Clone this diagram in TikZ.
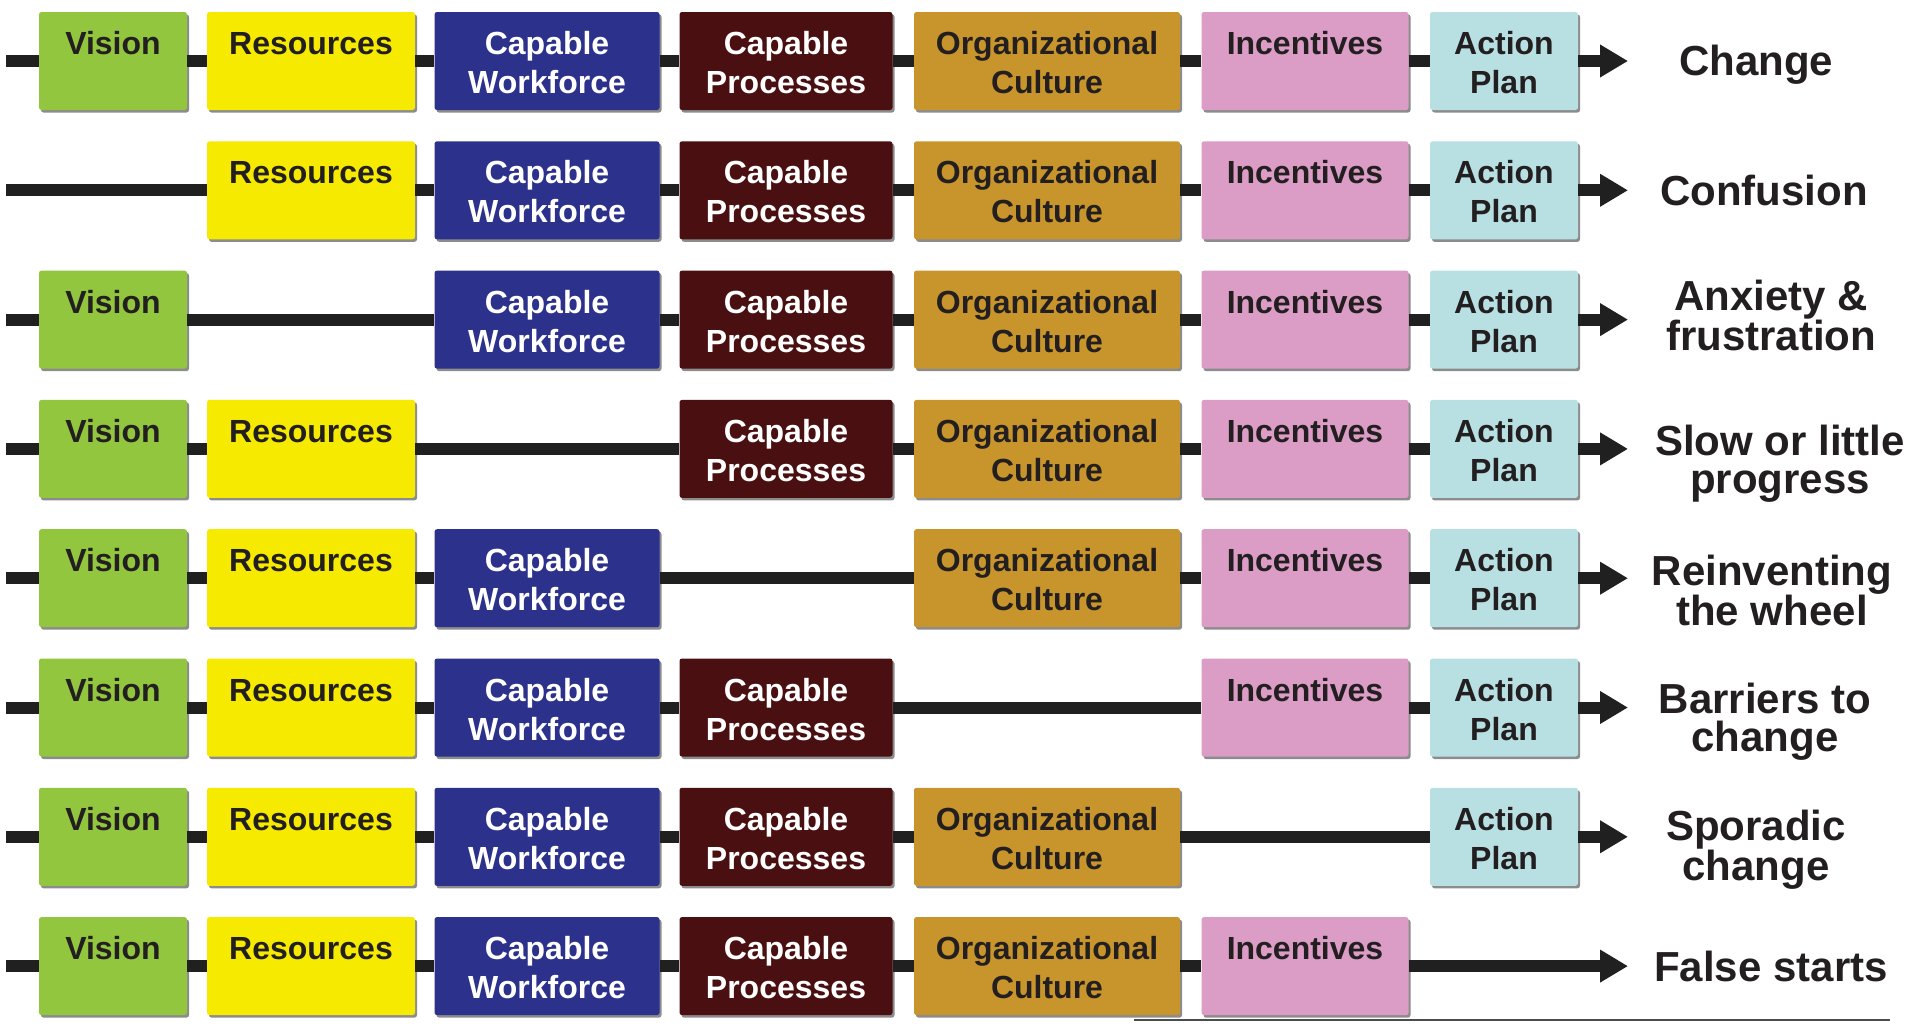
\documentclass[tikz,border=0pt]{standalone}
\usepackage{fontspec}
\setmainfont{Liberation Sans}
\usetikzlibrary{arrows.meta,shadows}
\definecolor{cVision}{RGB}{146,198,62}
\definecolor{cRes}{RGB}{246,234,0}
\definecolor{cCW}{RGB}{44,49,139}
\definecolor{cCP}{RGB}{74,16,17}
\definecolor{cOC}{RGB}{199,149,43}
\definecolor{cInc}{RGB}{219,156,198}
\definecolor{cAP}{RGB}{184,223,226}
\definecolor{cDark}{RGB}{35,31,32}
\definecolor{barc}{RGB}{32,32,32}
\tikzset{
  stagebox/.style={rounded corners=2.5pt, inner sep=0pt, minimum height=98pt,
    drop shadow={shadow xshift=2pt, shadow yshift=-2.5pt, opacity=0.45, fill=black}},
  boxtext/.style={font=\fontsize{32}{39}\selectfont\bfseries, align=center,
    inner sep=0pt, anchor=north},
  bar/.style={line width=12pt, draw=barc},
  outlabel/.style={font=\fontsize{42}{38}\selectfont\bfseries, align=center,
    inner sep=0pt, anchor=north, text=cDark},
}
\begin{document}
\begin{tikzpicture}[x=1pt,y=-1pt]
\useasboundingbox (0,0) rectangle (1911,1023);
\foreach \r/\miss/\lab/\lx/\ly in {
  1/0/{Change}/1756/14,
  2/1/{Confusion}/1764/15,
  3/2/{Anxiety \&\\frustration}/1771/-9,
  4/3/{Slow or little\\progress}/1780/6,
  5/4/{Reinventing\\the wheel}/1772/7,
  6/5/{Barriers to\\change}/1765/6,
  7/6/{Sporadic\\change}/1756/3,
  8/7/{False starts}/1771/15}{
  \pgfmathsetmacro\y{61+129.3*(\r-1)}
  \coordinate (s\r) at (6,\y);
  \coordinate (e\r) at (1628,\y);
  \xdef\prev{s\r}
  \foreach \c/\cx/\cw/\cf/\ct/\ctext in {
    1/113/148/cVision/cDark/{Vision},
    2/311/208/cRes/cDark/{Resources},
    3/547/225/cCW/white/{Capable\\Workforce},
    4/786/213/cCP/white/{Capable\\Processes},
    5/1047/266/cOC/cDark/{Organizational\\Culture},
    6/1305/207/cInc/cDark/{Incentives},
    7/1504/148/cAP/cDark/{Action\\Plan}}{
    \ifnum\c=\miss\else
      \node[stagebox, fill=\cf, minimum width=\cw*1pt] (b\r-\c) at (\cx,\y) {};
      \node[boxtext, text=\ct] (t\r-\c) at ([yshift=-15.2pt]b\r-\c.north) {\strut\ctext};
      \draw[bar] (\prev) -- (b\r-\c);
      \xdef\prev{b\r-\c}
    \fi
  }
  \draw[bar, -{Triangle[length=28pt,width=31pt]}] (\prev) -- (e\r);
  \node[outlabel] (l\r) at (\lx,{\y+\ly-34}) {\rule{0pt}{34pt}\lab};
}
\coordinate (rulea) at (1134,1020);
\coordinate (ruleb) at (1890,1020);
\draw[line width=1.5pt, draw=black!70] (rulea) -- (ruleb);
\end{tikzpicture}
\end{document}
